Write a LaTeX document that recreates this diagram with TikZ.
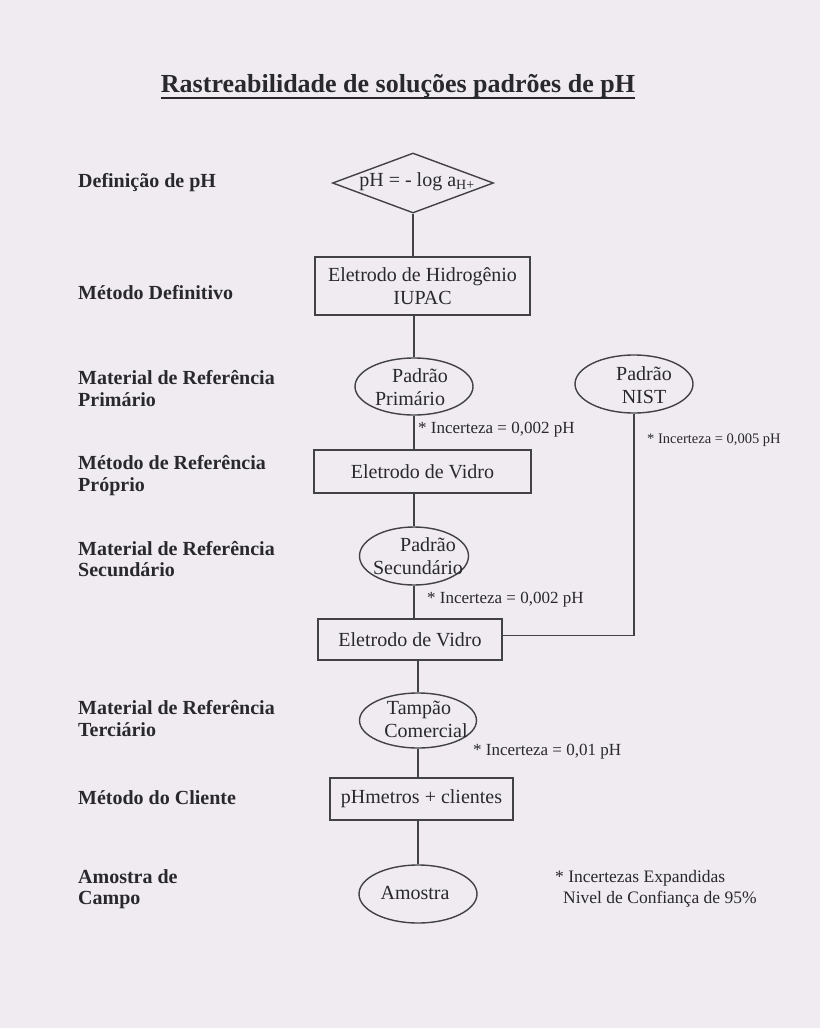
\documentclass[tikz,border=0pt]{standalone}
\usepackage{fontspec}
\setmainfont{Liberation Serif}
\usetikzlibrary{shapes.geometric}
\definecolor{bg}{RGB}{239,235,241}
\definecolor{ink}{RGB}{40,40,45}
\definecolor{edge}{RGB}{65,65,70}
\begin{document}
\begin{tikzpicture}[x=1pt,y=-1pt,
  every node/.style={text=ink},
  shp/.style={draw=edge, line width=1.4pt, inner sep=0pt},
  boxn/.style={shp, rectangle, font=\fontsize{20}{23}\selectfont, align=center},
  elln/.style={shp, ellipse},
  txt/.style={font=\fontsize{20}{23}\selectfont, align=center, inner sep=0pt},
  lab/.style={font=\bfseries\fontsize{20}{21.5}\selectfont, align=left, anchor=west, inner sep=0pt},
  note/.style={font=\fontsize{17}{20}\selectfont, anchor=base west, inner sep=0pt},
  conn/.style={draw=edge, line width=1.4pt}]
\fill[bg] (0,0) rectangle (820,1028);
\useasboundingbox (0,0) rectangle (820,1028);

% title
\node[font=\bfseries\fontsize{26}{30}\selectfont, anchor=base, inner sep=0pt] (title) at (398,92) {Rastreabilidade de soluções padrões de pH};
\draw[ink, line width=1.8pt] ([yshift=-6pt]title.base west) -- ([yshift=-6pt]title.base east);

% left labels
\node[lab] (l1) at (78,183) {Definição de pH};
\node[lab] (l2) at (78,293) {Método Definitivo};
\node[lab] (l3) at (78,388.5) {Material de Referência\\Primário};
\node[lab] (l4) at (78,475.5) {Método de Referência\\Próprio};
\node[lab] (l5) at (78,559) {Material de Referência\\Secundário};
\node[lab] (l6) at (78,718.5) {Material de Referência\\Terciário};
\node[lab] (l7) at (78,798) {Método do Cliente};
\node[lab] (l8) at (78,889) {Amostra de\\Campo};

% chain
\node[shp, diamond, minimum width=161pt, minimum height=60pt] (d) at (413,183) {};
\node[txt] (dt) at (417,182) {pH = - log a\textsubscript{H+}};
\node[boxn, minimum width=215pt, minimum height=58pt] (b1) at (422.5,286) {Eletrodo de Hidrogênio\\IUPAC};
\node[elln, minimum width=118pt, minimum height=57pt] (e1) at (414,386.5) {};
\node[txt] (e1t) at (410,387) {\hspace*{20pt}Padrão\\Primário};
\node[elln, minimum width=118pt, minimum height=58pt] (nist) at (634,384) {};
\node[txt] (nistt) at (644,385) {Padrão\\NIST};
\node[boxn, minimum width=217pt, minimum height=43pt] (b2) at (422.5,471.5) {Eletrodo de Vidro};
\node[elln, minimum width=109pt, minimum height=58pt] (e2) at (414,556) {};
\node[txt] (e2t) at (418,556) {\hspace*{20pt}Padrão\\Secundário};
\node[boxn, minimum width=184pt, minimum height=41pt] (b3) at (410,639.5) {Eletrodo de Vidro};
\node[elln, minimum width=117pt, minimum height=55pt] (e3) at (418,720.5) {};
\node[txt] (e3t) at (419,719) {Tampão\\\hspace*{14pt}Comercial};
\node[boxn, minimum width=183pt, minimum height=42pt] (b4) at (421.5,799) {pHmetros + clientes};
\node[elln, minimum width=118pt, minimum height=58pt] (e4) at (418,894) {};
\node[txt] (e4t) at (415,893) {Amostra};

% connectors
\draw[conn] (d.south) -- (d.south |- b1.north);
\draw[conn] (e1.north |- b1.south) -- (e1.north);
\draw[conn] (e1.south) -- (e1.south |- b2.north);
\draw[conn] (e2.north |- b2.south) -- (e2.north);
\draw[conn] (e2.south) -- (e2.south |- b3.north);
\draw[conn] (e3.north |- b3.south) -- (e3.north);
\draw[conn] (e3.south) -- (e3.south |- b4.north);
\draw[conn] (e4.north |- b4.south) -- (e4.north);
\draw[conn] (nist.south) |- ([yshift=4pt]b3.east);

% uncertainty notes
\node[note] (n1) at (418,433) {* Incerteza = 0,002 pH};
\node[note, font=\fontsize{14.5}{17}\selectfont] (n2) at (647,443) {* Incerteza = 0,005 pH};
\node[note] (n3) at (427,603) {* Incerteza = 0,002 pH};
\node[note] (n4) at (473,755) {* Incerteza = 0,01 pH};

% footnote
\node[note, font=\fontsize{17.5}{21}\selectfont] (f1) at (555,882) {* Incertezas Expandidas};
\node[note, font=\fontsize{17.5}{21}\selectfont] (f2) at (563,903) {Nivel de Confiança de 95\%};
\end{tikzpicture}
\end{document}
